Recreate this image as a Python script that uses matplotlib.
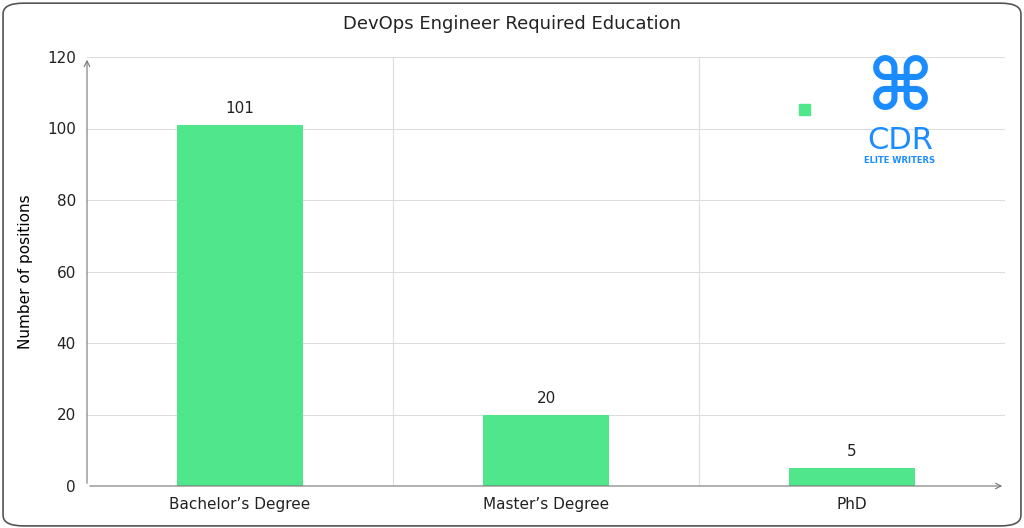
import matplotlib.pyplot as plt
from matplotlib.patches import FancyBboxPatch

categories = ["Bachelor\u2019s Degree", "Master\u2019s Degree", "PhD"]
positions = [101, 20, 5]
yticks = [0, 20, 40, 60, 80, 100, 120]

green = '#50e68c'
blue = '#1a8cff'

fig = plt.figure(figsize=(10.24, 5.28), dpi=100)
fig.patch.set_facecolor('white')
fig.patches.append(FancyBboxPatch((0.003, 0.004), 0.994, 0.99, boxstyle='round,pad=0,rounding_size=0.02',
                                  transform=fig.transFigure, fc='white', ec='#555555', lw=1.2, zorder=-1))

ax = fig.add_axes([87/1024, 42/528, 918/1024, 429/528])
ax.set_xlim(0, 3)
ax.set_ylim(0, 120)
x = [i + 0.5 for i in range(len(categories))]
ax.bar(x, positions, width=0.41, color=green, zorder=3)
for xi, v in zip(x, positions):
    ax.text(xi, v + 2.5, str(v), ha='center', va='bottom', fontsize=11, color='#222222')

ax.set_xticks(x)
ax.set_xticklabels(categories, fontsize=11)
ax.set_yticks(yticks)
ax.tick_params(axis='both', length=0, labelsize=11, colors='#222222', pad=8)
ax.set_xticks([1, 2], minor=True)
ax.tick_params(axis='x', which='minor', length=0)
ax.grid(True, which='major', axis='y', color='#dddddd', lw=0.8, zorder=0)
ax.grid(True, which='minor', axis='x', color='#dddddd', lw=0.8, zorder=0)
for s in ax.spines.values():
    s.set_visible(False)
ax.annotate('', xy=(3.0, 0), xytext=(0, 0), xycoords='data',
            arrowprops=dict(arrowstyle='->', color='#777777', lw=0.8), annotation_clip=False)
ax.annotate('', xy=(0, 120), xytext=(0, 0),
            arrowprops=dict(arrowstyle='->', color='#777777', lw=0.8), annotation_clip=False)
ax.set_ylabel('Number of positions', fontsize=11, labelpad=10)
fig.text(0.5, 0.955, 'DevOps Engineer Required Education', ha='center', va='center', fontsize=13, color='#222222')

# legend-like marker
fig.patches.append(plt.Rectangle((799/1024, 1 - 115/528), 11/1024, 11/528, transform=fig.transFigure, color=green))

# logo
fig.text(900/1024, 1 - 90/528, '\u2318', ha='center', va='center', fontsize=52, color=blue, fontweight='bold')
fig.text(900/1024, 1 - 149/528, 'CDR', ha='center', va='baseline', fontsize=22, color=blue)
fig.text(900/1024, 1 - 156/528, 'ELITE WRITERS', ha='center', va='top', fontsize=6, color=blue, fontweight='bold')

fig.savefig('out.png', dpi=100, facecolor='white')
